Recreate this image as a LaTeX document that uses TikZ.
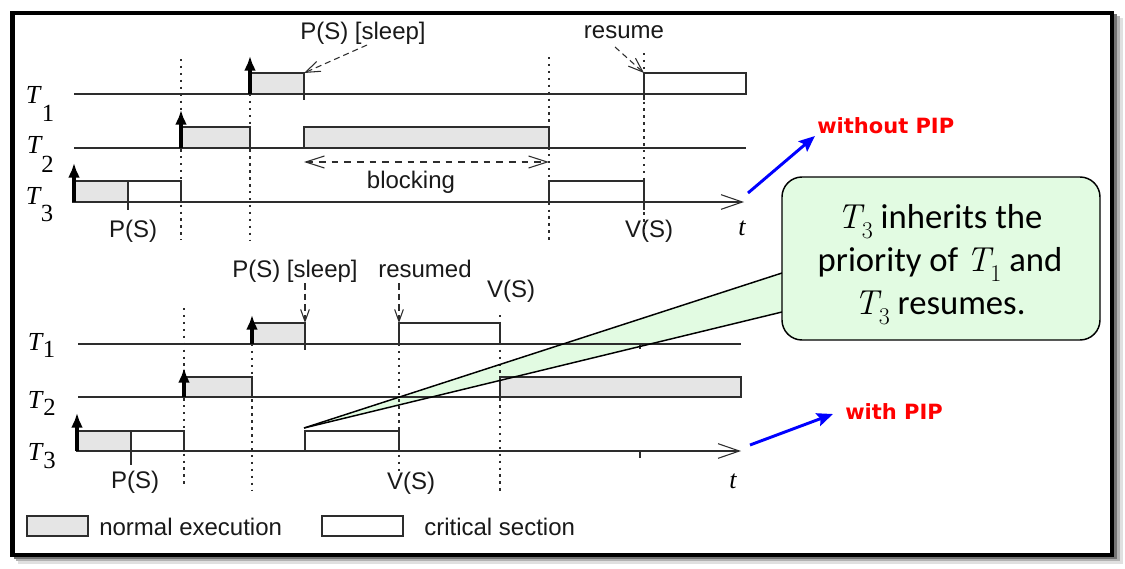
\documentclass[tikz,border=0pt]{standalone}
\usepackage{fontspec}
\setsansfont{Liberation Sans}
\newfontfamily\serifT{Liberation Serif}
\newfontfamily\callfont{Carlito}
\newfontfamily\pipfont{DejaVu Sans}
\usetikzlibrary{arrows.meta}
\definecolor{callgreen}{RGB}{226,251,226}
\definecolor{boxgray}{RGB}{229,229,229}
\definecolor{lncol}{RGB}{45,45,45}
\newcommand{\CT}[1]{{\rmfamily\itshape T}\raisebox{-0.3em}{\rmfamily\fontsize{18}{18}\selectfont #1}}
\begin{document}
\begin{tikzpicture}[x=0.75pt,y=-0.75pt,
  lbl/.style={font=\sffamily\fontsize{18}{20}\selectfont, text=black!90, inner sep=0pt},
  tl/.style={font=\serifT\itshape\fontsize{19.5}{22}\selectfont, inner sep=0pt},
  td/.style={font=\serifT\fontsize{18.5}{22}\selectfont, inner sep=0pt},
  ln/.style={draw=lncol, line width=0.9pt},
  nex/.style={ln, fill=boxgray},
  crit/.style={ln, fill=white},
  dotl/.style={draw=lncol, line width=0.9pt, dash pattern=on 1.8pt off 3.4pt},
  uparr/.style={draw=black, line width=2.5pt, -{Latex[length=11pt,width=9pt]}},
  axis/.style={ln, -{Straight Barb[length=16pt,width=11pt,line width=0.8pt]}},
  slarr/.style={draw=lncol, line width=0.8pt, dash pattern=on 4.5pt off 3pt, -{Straight Barb[length=11pt,width=8pt]}},
  dnarr/.style={draw=lncol, line width=0.8pt, dash pattern=on 5pt off 3pt, -{Straight Barb[length=9pt,width=6.5pt]}},
  blkarr/.style={draw=lncol, line width=0.8pt, dash pattern=on 5pt off 4.5pt, {Straight Barb[length=14pt,width=9pt]}-{Straight Barb[length=14pt,width=9pt]}},
  bluearr/.style={draw=blue, line width=2.2pt, -{Stealth[length=12pt,width=10pt,inset=2pt]}},
  piptxt/.style={font=\pipfont\bfseries\fontsize{15.75}{18}\selectfont, text=red, inner sep=0pt},
  call/.style={font=\callfont\fontsize{26}{30}\selectfont, inner sep=0pt},
  callline/.style={draw=black, line width=1.1pt}
]
\useasboundingbox (0,0) rectangle (1125,568);
\fill[white] (0,0) rectangle (1125,568);
% shadow and frame
\fill[black!12] (18,18) rectangle (1123,564);
\fill[black!30] (16,16) rectangle (1120,561);
\fill[black!55] (14,14) rectangle (1117,559);
\fill[white] (12.5,13) rectangle (1112,555);
\draw[black, line width=3.4pt] (12.5,13) rectangle (1112,555);

% callout wedge fill (under diagram)
\coordinate (wtip) at (304,428);
\coordinate (wup) at (782,273);
\coordinate (wlo) at (782,312);
\fill[callgreen] (wtip) -- (wup) -- (wlo) -- cycle;

% ================= top diagram =================
\node[tl] (tA1) at (33,95) {T};   \node[td] (sA1) at (48,113) {1};
\node[tl] (tA2) at (34,145) {T};  \node[td] (sA2) at (47.5,164) {2};
\node[tl] (tA3) at (33,196) {T};  \node[td] (sA3) at (47,213) {3};

\draw[dotl] (181,59) -- (181,240);
\draw[dotl] (250,94) -- (250,240);
\draw[dotl] (549,57) -- (549,240);
\draw[dotl] (644,53) -- (644,240);

\draw[ln] (74,94) -- (746,94);
\draw[ln] (74,148) -- (746,148);
\draw[axis] (72,202) -- (744,202);

\draw[nex] (74,181) rectangle (128,202);
\draw[crit] (128,181) rectangle (181,202);
\draw[nex] (181,127) rectangle (250,148);
\draw[nex] (250,73) rectangle (304,94);
\draw[nex] (304,127) rectangle (549,148);
\draw[crit] (549,181) rectangle (644,202);
\draw[crit] (644,73) rectangle (746,94);

\draw[ln] (128,202) -- (128,210);
\draw[ln] (304,94) -- (304,100);
\draw[ln] (644,94) -- (644,100);
\draw[ln] (644,202) -- (644,210);

\draw[uparr] (74,202) -- (74,163);
\draw[uparr] (181,148) -- (181,110);
\draw[uparr] (250,94) -- (250,56);

\node[lbl, anchor=base] (sleepA) at (363,39) {P(S) [sleep]};
\node[lbl, anchor=base] (resA) at (624,38) {resume};
\node[lbl, anchor=base] (blkA) at (411,188) {blocking};
\node[lbl, anchor=base] (psA) at (133,237) {P(S)};
\node[lbl, anchor=base] (vsA) at (649,237) {V(S)};
\node[tl, anchor=base] (tA) at (742,235) {t};

\coordinate (slA0) at (367,45);  \coordinate (slA1) at (304,73);
\draw[slarr] (slA0) -- (slA1);
\coordinate (rsA0) at (615,47);  \coordinate (rsA1) at (644,73);
\draw[slarr] (rsA0) -- (rsA1);
\coordinate (bkL) at (304,162);  \coordinate (bkR) at (549,162);
\draw[blkarr] (bkL) -- (bkR);

% ================= bottom diagram =================
\node[tl] (tB1) at (35,342) {T};  \node[td] (sB1) at (49,349) {1};
\node[tl] (tB2) at (35,400) {T};  \node[td] (sB2) at (49.5,407) {2};
\node[tl] (tB3) at (35,452) {T};  \node[td] (sB3) at (49.5,460) {3};

\draw[dotl] (184,308) -- (184,488);
\draw[dotl] (252,344) -- (252,490);
\draw[dotl] (399,344) -- (399,471);
\draw[dotl] (500,315) -- (500,495);

\draw[ln] (78,344) -- (741,344);
\draw[ln] (78,397) -- (741,397);
\draw[axis] (77,451) -- (741,451);

\draw[nex] (77,431) rectangle (131,451);
\draw[crit] (131,431) rectangle (184,451);
\draw[nex] (184,377) rectangle (252,397);
\draw[nex] (252,323) rectangle (305,344);
\draw[crit] (305,431) rectangle (399,451);
\draw[crit] (399,323) rectangle (500,344);
\draw[nex] (500,377) rectangle (741,397);

\draw[ln] (131,451) -- (131,465);
\draw[ln] (305,344) -- (305,350);
\draw[ln] (640,344) -- (640,349);
\draw[ln] (640,451) -- (640,458);

\draw[uparr] (77,451) -- (77,413);
\draw[uparr] (184,397) -- (184,368);
\draw[uparr] (252,344) -- (252,315);

\node[lbl, anchor=base] (sleepB) at (295,277) {P(S) [sleep]};
\node[lbl, anchor=base] (resB) at (425,277) {resumed};
\node[lbl, anchor=base] (vsB1) at (511,297) {V(S)};
\node[lbl, anchor=base] (psB) at (135,488) {P(S)};
\node[lbl, anchor=base] (vsB2) at (411,489) {V(S)};
\node[tl, anchor=base] (tB) at (733,488) {t};

\coordinate (slB0) at (305,283);  \coordinate (slB1) at (305,323);
\draw[dnarr] (slB0) -- (slB1);
\coordinate (rsB0) at (399,283);  \coordinate (rsB1) at (399,323);
\draw[dnarr] (rsB0) -- (rsB1);

% legend
\draw[nex] (27,516) rectangle (88,536);
\node[lbl, anchor=base west] (legN) at (99,535) {normal execution};
\draw[crit] (322,516) rectangle (403,536);
\node[lbl, anchor=base west] (legC) at (424,535) {critical section};

% ================= annotations =================
\node[piptxt, anchor=west] (woPIP) at (817,126) {without PIP};
\coordinate (bA1) at (748,193);  \coordinate (bA2) at (815,136);
\draw[bluearr] (bA1) -- (bA2);
\node[piptxt, anchor=west] (wPIP) at (845,412) {with PIP};
\coordinate (bB1) at (750,445);  \coordinate (bB2) at (833,414);
\draw[bluearr] (bB1) -- (bB2);

% callout
\draw[callline] (wtip) -- (wup);
\draw[callline] (wtip) -- (wlo);
\draw[callline, fill=callgreen, rounded corners=15pt] (782,177) rectangle (1100,340);
\node[call, anchor=base] (c1) at (940,228) {\CT{3} inherits the};
\node[call, anchor=base] (c2) at (940,271) {priority of \CT{1} and};
\node[call, anchor=base] (c3) at (940,314) {\CT{3} resumes.};
\end{tikzpicture}
\end{document}
